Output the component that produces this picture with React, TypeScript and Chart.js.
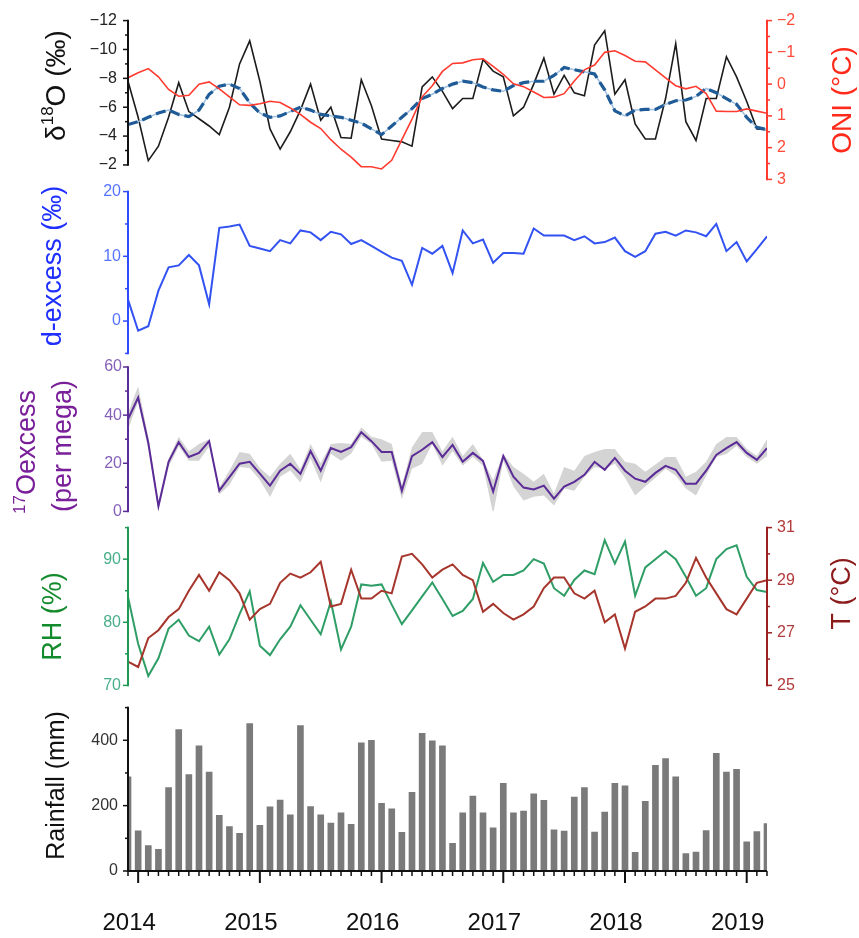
import React, { useEffect, useRef } from 'react';
import { Chart, registerables } from 'chart.js';

Chart.register(...registerables);

const FONT = '"Liberation Sans", Arial, Helvetica, sans-serif';

// ---- data (monthly, Dec 2013 .. Mar 2019) ----
const YEAR_LABELS = ['2014', '2015', '2016', '2017', '2018', '2019'];

const D18O = [
  -7.8, -5.3, -2.3, -3.3, -5.3, -7.7, -5.7, -5.2, -4.7, -4.1,
  -6.0, -9.0, -10.6, -7.8, -4.5, -3.1, -4.3, -5.8, -7.6, -5.1,
  -6.0, -3.9, -3.85, -7.9, -6.1, -3.8, -3.7, -3.6, -3.3, -7.4,
  -8.1, -7.1, -5.9, -6.6, -6.6, -9.3, -8.5, -8.1, -5.4, -6.0,
  -7.6, -9.4, -6.9, -8.2, -7.0, -6.8, -10.3, -11.3, -6.9, -7.9,
  -4.85, -3.8, -3.8, -6.6, -10.4, -5.0, -3.7, -6.6, -6.6, -9.5,
  -8.1, -6.4, -4.5, -4.45,
];

const D18O_SMOOTH = [
  -4.8, -5.0, -5.3, -5.6, -5.8, -5.5, -5.35, -5.8, -6.9, -7.45,
  -7.6, -7.3, -6.3, -5.6, -5.3, -5.4, -5.7, -6.0, -5.8, -5.5,
  -5.4, -5.3, -5.1, -4.9, -4.5, -4.1, -4.7, -5.3, -5.9, -6.6,
  -6.9, -7.3, -7.6, -7.8, -7.7, -7.4, -7.2, -7.1, -7.5, -7.7,
  -7.8, -7.8, -8.2, -8.75, -8.6, -8.45, -8.3, -7.2, -5.75, -5.4,
  -5.8, -5.85, -5.85, -6.2, -6.45, -6.5, -6.75, -7.3, -7.0, -6.6,
  -6.2, -5.3, -4.6, -4.45,
];

const ONI = [
  -0.2, -0.36, -0.49, -0.23, 0.17, 0.38, 0.35, 0.0, -0.07, 0.15,
  0.4, 0.65, 0.67, 0.62, 0.54, 0.58, 0.75, 0.95, 1.2, 1.4,
  1.75, 2.05, 2.3, 2.6, 2.6, 2.67, 2.4, 1.75, 1.1, 0.4,
  0.05, -0.4, -0.65, -0.67, -0.77, -0.8, -0.56, -0.31, -0.01, 0.08,
  0.25, 0.42, 0.41, 0.3, -0.1, -0.45, -0.6, -1.0, -1.05, -0.9,
  -0.72, -0.7, -0.45, -0.2, 0.05, 0.15, 0.07, 0.3, 0.85, 0.86,
  0.86, 0.78, 0.85, 0.92,
];

const DEXCESS = [
  3.3, -1.5, -0.8, 4.7, 8.3, 8.6, 10.2, 8.6, 2.6, 14.4,
  14.6, 14.9, 11.6, 11.2, 10.8, 12.5, 12.0, 14.0, 13.7, 12.5,
  13.8, 13.4, 11.9, 12.5, 11.6, 10.7, 9.8, 9.3, 5.6, 11.3,
  10.4, 11.6, 7.4, 14.0, 12.0, 12.6, 9.0, 10.5, 10.5, 10.4,
  14.3, 13.2, 13.2, 13.2, 12.5, 13.1, 12.0, 12.2, 12.9, 10.8,
  9.9, 10.8, 13.5, 13.8, 13.2, 14.0, 13.7, 13.1, 15.0, 10.8,
  12.2, 9.2, 11.1, 13.1,
];

const O17 = [
  38.3, 47.3, 28.5, 2.1, 20.6, 28.8, 22.6, 24.3, 29.2, 8.6,
  14.2, 19.8, 20.6, 15.7, 10.7, 16.9, 19.8, 15.6, 25.1, 16.9,
  26.3, 24.7, 26.7, 32.9, 29.2, 24.7, 24.7, 8.6, 23.0, 25.6,
  28.8, 22.6, 27.6, 20.6, 24.3, 21.0, 8.2, 23.0, 14.4, 9.9,
  9.1, 10.7, 5.3, 10.3, 12.3, 15.2, 20.6, 17.3, 22.2, 16.9,
  13.6, 12.3, 16.0, 18.9, 17.3, 11.5, 11.5, 16.9, 23.5, 26.3,
  28.8, 24.3, 21.4, 26.3,
];

const O17_UPPER = [
  41, 52, 31, 4, 22, 31, 25, 28, 30, 10,
  17, 24.7, 24, 18, 14.4, 19.8, 24, 17.5, 28, 20,
  28, 28.4, 28, 35, 31, 30, 28, 11, 26.7, 33,
  33, 25, 31, 23, 28, 21.5, 13, 24, 18.5, 15.6,
  12.3, 15.6, 7.4, 18.5, 16.9, 23, 24.7, 25.9, 25.9, 20.6,
  19.8, 16.5, 19.5, 22.6, 22.6, 14.4, 16.5, 20.6, 28, 30.9,
  30.9, 26, 23, 30,
];

const O17_LOWER = [
  34, 45.5, 26, 0.5, 18.5, 27, 21, 21, 27, 7,
  11, 18.5, 18, 13, 6, 14.4, 17, 12, 22, 12,
  24, 21, 24, 31, 28, 20.6, 21, 5, 17.7, 19.8,
  28, 19, 25, 19, 22.6, 19, -1, 21, 10.3, 4.5,
  6.1, 6.6, 2.5, 9.5, 8.6, 14.4, 18.5, 17.7, 19.8, 14,
  6.6, 10.3, 14, 17.7, 14.8, 9.5, 6.6, 14.8, 22.6, 23.9,
  27.2, 22.6, 19.8, 23,
];

const RH = [
  84.0, 76.6, 71.5, 74.3, 79.0, 80.4, 77.9, 77.0, 79.3, 74.9,
  77.3, 81.3, 84.9, 76.3, 74.8, 77.3, 79.3, 82.7, 80.4, 78.1,
  83.3, 75.7, 79.3, 86.0, 85.8, 86.0, 82.8, 79.7, 81.9, 84.1,
  86.3, 83.7, 81.0, 81.8, 83.7, 89.4, 86.4, 87.5, 87.5, 88.2,
  90.0, 89.3, 85.4, 84.2, 86.7, 88.2, 87.6, 93.0, 89.3, 92.8,
  84.2, 88.7, 90.0, 91.3, 90.0, 87.2, 84.2, 85.4, 90.0, 91.6,
  92.2, 87.2, 85.1, 84.8,
];

const TEMP = [
  25.9, 25.7, 26.8, 27.1, 27.6, 27.9, 28.6, 29.2, 28.6, 29.3,
  29.0, 28.5, 27.5, 27.9, 28.1, 28.9, 29.25, 29.1, 29.3, 29.7,
  28.0, 28.1, 29.4, 28.3, 28.3, 28.6, 28.5, 29.9, 30.0, 29.6,
  29.1, 29.4, 29.6, 29.2, 29.0, 27.8, 28.1, 27.75, 27.5, 27.7,
  28.0, 28.7, 29.1, 29.1, 28.5, 28.3, 28.6, 27.4, 27.7, 26.4,
  27.8, 28.0, 28.3, 28.3, 28.4, 28.9, 29.85, 29.1, 28.5, 27.9,
  27.7, 28.3, 28.9, 29.0,
];

const RAIN = [
  288, 123, 78, 66, 255, 433, 295, 383, 303, 170,
  136, 115, 451, 140, 196, 217, 172, 445, 197, 172,
  147, 178, 143, 392, 400, 207, 190, 118, 241, 421,
  398, 383, 85, 178, 229, 178, 132, 268, 178, 183,
  236, 216, 126, 122, 226, 255, 119, 180, 268, 261,
  57, 213, 323, 344, 288, 53, 58, 124, 360, 303,
  311, 89, 121, 145,
];

// ---- helpers ----
const N = RAIN.length;
const LAST = N - 1;
const YEAR_TICKS = YEAR_LABELS.map((_, k) => 1 + 12 * k);
const pts = (arr: number[]) => arr.map((y, x) => ({ x, y }));
const fmt = (v: number) => (v < 0 ? '\u2212' + Math.abs(v) : String(v));
const range = (a: number, b: number, step: number) => {
  const out: number[] = [];
  for (let v = a; v <= b + 1e-9; v += step) out.push(Math.round(v * 100) / 100);
  return out;
};

const decorPlugin = {
  id: 'decor',
  afterDraw(chart: any, _args: any, opts: any) {
    const { ctx, chartArea } = chart;
    for (const a of opts.axes || []) {
      const s = chart.scales[a.scale];
      const lw = a.lineWidth ?? 2;
      ctx.save();
      ctx.strokeStyle = a.color;
      ctx.lineCap = 'butt';
      if (a.side === 'bottom') {
        const y = chartArea.bottom;
        const x0 = s.getPixelForValue(a.from);
        const x1 = s.getPixelForValue(a.to);
        ctx.lineWidth = lw;
        ctx.beginPath();
        ctx.moveTo(x0 - lw / 2, y);
        ctx.lineTo(x1, y);
        ctx.stroke();
        ctx.lineWidth = 1.5;
        for (const v of a.minor) {
          const x = s.getPixelForValue(v);
          ctx.beginPath();
          ctx.moveTo(x, y);
          ctx.lineTo(x, y + a.minorLen);
          ctx.stroke();
        }
        ctx.lineWidth = 2;
        for (const v of a.major) {
          const x = s.getPixelForValue(v);
          ctx.beginPath();
          ctx.moveTo(x, y);
          ctx.lineTo(x, y + a.majorLen);
          ctx.stroke();
        }
      } else {
        const x = a.side === 'left' ? chartArea.left : chartArea.right;
        const dir = a.side === 'left' ? -1 : 1;
        const y0 = s.getPixelForValue(a.from);
        const y1 = s.getPixelForValue(a.to);
        ctx.lineWidth = lw;
        ctx.beginPath();
        ctx.moveTo(x, Math.min(y0, y1) - 0.75);
        ctx.lineTo(x, Math.max(y0, y1) + 0.75);
        ctx.stroke();
        ctx.lineWidth = 1.5;
        for (const v of a.major) {
          const y = s.getPixelForValue(v);
          ctx.beginPath();
          ctx.moveTo(x, y);
          ctx.lineTo(x + dir * a.majorLen, y);
          ctx.stroke();
        }
        for (const v of a.minor) {
          const y = s.getPixelForValue(v);
          ctx.beginPath();
          ctx.moveTo(x, y);
          ctx.lineTo(x + dir * a.minorLen, y);
          ctx.stroke();
        }
      }
      ctx.restore();
    }
    for (const t of opts.titles || []) {
      const s = chart.scales[t.scale];
      const cy = s.getPixelForValue(t.value);
      const main = `${t.size}px ${FONT}`;
      const sup = `${Math.round(t.size * 0.62)}px ${FONT}`;
      ctx.save();
      ctx.translate(t.x, cy);
      ctx.rotate(-Math.PI / 2);
      ctx.fillStyle = t.color;
      ctx.textBaseline = 'middle';
      ctx.textAlign = 'left';
      const widths = t.segs.map((sg: any[]) => {
        ctx.font = sg[1] ? sup : main;
        return ctx.measureText(sg[0]).width;
      });
      const total = widths.reduce((p: number, c: number) => p + c, 0);
      let cx = -total / 2;
      t.segs.forEach((sg: any[], i: number) => {
        ctx.font = sg[1] ? sup : main;
        ctx.fillText(sg[0], cx, sg[1] ? -t.size * 0.3 : 0);
        cx += widths[i];
      });
      ctx.restore();
    }
  },
};

const xHidden = { type: 'linear', min: 0, max: LAST, display: false, offset: false };

function yAxis(opt: any) {
  return {
    type: 'linear',
    position: opt.position,
    min: opt.min,
    max: opt.max,
    reverse: !!opt.reverse,
    afterFit: (s: any) => {
      s.width = opt.width;
    },
    afterBuildTicks: (s: any) => {
      s.ticks = opt.major.map((v: number) => ({ value: v }));
    },
    grid: { display: false, drawTicks: false },
    border: { display: false },
    ticks: {
      autoSkip: false,
      color: opt.tickColor,
      padding: opt.padding,
      font: { family: FONT, size: 16 },
      callback: (v: number) => fmt(v),
    },
  };
}

const baseOptions = (padding: any, scales: any, decor: any) => ({
  responsive: false,
  maintainAspectRatio: false,
  animation: false,
  devicePixelRatio: 1,
  layout: { padding },
  scales,
  plugins: { legend: { display: false }, tooltip: { enabled: false }, decor },
  elements: { point: { radius: 0 }, line: { tension: 0 } },
});

function buildPanels() {
  const p1 = {
    top: 0,
    h: 200,
    config: {
      type: 'line',
      data: {
        datasets: [
          { data: pts(ONI), yAxisID: 'y2', borderColor: '#ff3b30', borderWidth: 1.6, pointRadius: 0 },
          { data: pts(D18O_SMOOTH), yAxisID: 'y', borderColor: '#1f5b96', borderWidth: 3.2, borderDash: [10, 5], pointRadius: 0 },
          { data: pts(D18O_SMOOTH), yAxisID: 'y', borderColor: '#9fc0e0', borderWidth: 1.5, pointRadius: 0 },
          { data: pts(D18O), yAxisID: 'y', borderColor: '#1c1c1c', borderWidth: 1.6, pointRadius: 0 },
        ],
      },
      options: baseOptions(
        { top: 19, bottom: 15, left: 0, right: 0 },
        {
          x: xHidden,
          y: yAxis({ position: 'left', min: -12, max: -1, reverse: true, width: 128, major: range(-12, -2, 2), tickColor: '#222', padding: 11 }),
          y2: yAxis({ position: 'right', min: -2, max: 3, reverse: true, width: 92, major: range(-2, 3, 1), tickColor: '#ff4a3a', padding: 10 }),
        },
        {
          axes: [
            { scale: 'y', side: 'left', from: -12, to: -2, major: range(-12, -2, 2), minor: range(-11, -3, 2), color: '#111', majorLen: 5, minorLen: 3 },
            { scale: 'y2', side: 'right', from: -2, to: 3, major: range(-2, 3, 1), minor: range(-1.5, 2.5, 1), color: '#ff3b30', majorLen: 5, minorLen: 3 },
          ],
          titles: [
            { scale: 'y', value: -7.5, x: 57, size: 28, color: '#111', segs: [['δ'], ['18', true], ['O (‰)']] },
            { scale: 'y2', value: 0.5, x: 843, size: 28, color: '#ff2a1a', segs: [['ONI (°C)']] },
          ],
        }
      ),
      plugins: [decorPlugin],
    },
  };

  const p2 = {
    top: 175,
    h: 195,
    config: {
      type: 'line',
      data: {
        datasets: [{ data: pts(DEXCESS), yAxisID: 'y', borderColor: '#3352f2', borderWidth: 2, pointRadius: 0 }],
      },
      options: baseOptions(
        { top: 16, bottom: 12, left: 0, right: 92 },
        {
          x: xHidden,
          y: yAxis({ position: 'left', min: -5, max: 20, width: 128, major: [0, 10, 20], tickColor: '#5573ff', padding: 7 }),
        },
        {
          axes: [{ scale: 'y', side: 'left', from: -5, to: 20, major: [0, 10, 20], minor: [-5, 5, 15], color: '#2f4cff', majorLen: 5, minorLen: 3 }],
          titles: [{ scale: 'y', value: 8.5, x: 54, size: 27, color: '#1f2fff', segs: [['d-excess (‰)']] }],
        }
      ),
      plugins: [decorPlugin],
    },
  };

  const p3 = {
    top: 350,
    h: 177,
    config: {
      type: 'line',
      data: {
        datasets: [
          { data: pts(O17), yAxisID: 'y', borderColor: '#5b2b97', borderWidth: 2, pointRadius: 0, order: 0 },
          { data: pts(O17_UPPER), yAxisID: 'y', borderWidth: 0, borderColor: 'rgba(0,0,0,0)', backgroundColor: '#d4d4d4', fill: '+1', pointRadius: 0, order: 1 },
          { data: pts(O17_LOWER), yAxisID: 'y', borderWidth: 0, borderColor: 'rgba(0,0,0,0)', pointRadius: 0, order: 2 },
        ],
      },
      options: baseOptions(
        { top: 17, bottom: 14, left: 0, right: 92 },
        {
          x: xHidden,
          y: yAxis({ position: 'left', min: 0, max: 60, width: 128, major: [0, 20, 40, 60], tickColor: '#8460b8', padding: 6 }),
        },
        {
          axes: [{ scale: 'y', side: 'left', from: 0, to: 60, major: [0, 20, 40, 60], minor: [10, 30, 50], color: '#5b2b97', majorLen: 5, minorLen: 3 }],
          titles: [
            { scale: 'y', value: 24.7, x: 28, size: 27, color: '#7a1f9a', segs: [['17', true], ['Oexcess']] },
            { scale: 'y', value: 27.2, x: 64, size: 27, color: '#7a1f9a', segs: [['(per mega)']] },
          ],
        }
      ),
      plugins: [decorPlugin],
    },
  };

  const p4 = {
    top: 508,
    h: 197,
    config: {
      type: 'line',
      data: {
        datasets: [
          { data: pts(TEMP), yAxisID: 'y2', borderColor: '#a6352c', borderWidth: 2, pointRadius: 0 },
          { data: pts(RH), yAxisID: 'y', borderColor: '#2f9e66', borderWidth: 2, pointRadius: 0 },
        ],
      },
      options: baseOptions(
        { top: 17, bottom: 13, left: 0, right: 0 },
        {
          x: xHidden,
          y: yAxis({ position: 'left', min: 70, max: 95, width: 128, major: [70, 80, 90], tickColor: '#4aae8a', padding: 7 }),
          y2: yAxis({ position: 'right', min: 25, max: 31, width: 92, major: [25, 27, 29, 31], tickColor: '#b23a3a', padding: 10 }),
        },
        {
          axes: [
            { scale: 'y', side: 'left', from: 70, to: 95, major: [70, 80, 90], minor: [75, 85, 95], color: '#1e9a55', majorLen: 5, minorLen: 3 },
            { scale: 'y2', side: 'right', from: 25, to: 31, major: [25, 27, 29, 31], minor: [26, 28, 30], color: '#9b2020', majorLen: 5, minorLen: 3 },
          ],
          titles: [
            { scale: 'y', value: 80.9, x: 54, size: 27, color: '#138a2c', segs: [['RH (%)']] },
            { scale: 'y2', value: 28.5, x: 843, size: 27, color: '#8b1a1a', segs: [['T (°C)']] },
          ],
        }
      ),
      plugins: [decorPlugin],
    },
  };

  const monthTicks = Array.from({ length: N }, (_, i) => i).filter((i) => !YEAR_TICKS.includes(i));

  const p5 = {
    top: 688,
    h: 250,
    config: {
      type: 'bar',
      data: {
        datasets: [{ data: pts(RAIN), yAxisID: 'y', backgroundColor: '#7a7a7a', borderWidth: 0, barThickness: 6 }],
      },
      options: baseOptions(
        { top: 15, bottom: 0, left: 0, right: 92 },
        {
          x: {
            type: 'linear',
            position: 'bottom',
            min: 0,
            max: LAST,
            offset: false,
            afterFit: (s: any) => {
              s.height = 67;
            },
            afterBuildTicks: (s: any) => {
              s.ticks = YEAR_TICKS.map((v) => ({ value: v }));
            },
            grid: { display: false, drawTicks: false, offset: false },
            border: { display: false },
            ticks: {
              autoSkip: false,
              maxRotation: 0,
              minRotation: 0,
              padding: 38,
              labelOffset: -9,
              color: '#111',
              font: { family: FONT, size: 24 },
              callback: (_v: number, i: number) => YEAR_LABELS[i],
            },
          },
          y: yAxis({ position: 'left', min: 0, max: 500, width: 128, major: [0, 200, 400], tickColor: '#333', padding: 10 }),
        },
        {
          axes: [
            { scale: 'y', side: 'left', from: 0, to: 500, major: [0, 200, 400], minor: [100, 300, 500], color: '#111', majorLen: 5, minorLen: 3 },
            { scale: 'x', side: 'bottom', from: 0, to: LAST, major: YEAR_TICKS, minor: monthTicks, color: '#111', majorLen: 12, minorLen: 5 },
          ],
          titles: [{ scale: 'y', value: 262, x: 57, size: 25, color: '#111', segs: [['Rainfall (mm)']] }],
        }
      ),
      plugins: [decorPlugin],
    },
  };

  return [p1, p2, p3, p4, p5];
}

export default function App() {
  const refs = useRef<(HTMLCanvasElement | null)[]>([]);
  const panels = buildPanels();

  useEffect(() => {
    const charts: Chart[] = [];
    const defs = buildPanels();
    defs.forEach((p, i) => {
      const c = refs.current[i];
      if (c) charts.push(new Chart(c, p.config as any));
    });
    return () => charts.forEach((c) => c.destroy());
  }, []);

  return (
    <div style={{ position: 'absolute', left: 0, top: 0, width: 859, height: 938, background: '#ffffff', overflow: 'hidden' }}>
      {panels.map((p, i) => (
        <canvas
          key={i}
          ref={(el) => {
            refs.current[i] = el;
          }}
          width={859}
          height={p.h}
          style={{ position: 'absolute', left: 0, top: p.top, width: 859, height: p.h, display: 'block' }}
        />
      ))}
    </div>
  );
}
